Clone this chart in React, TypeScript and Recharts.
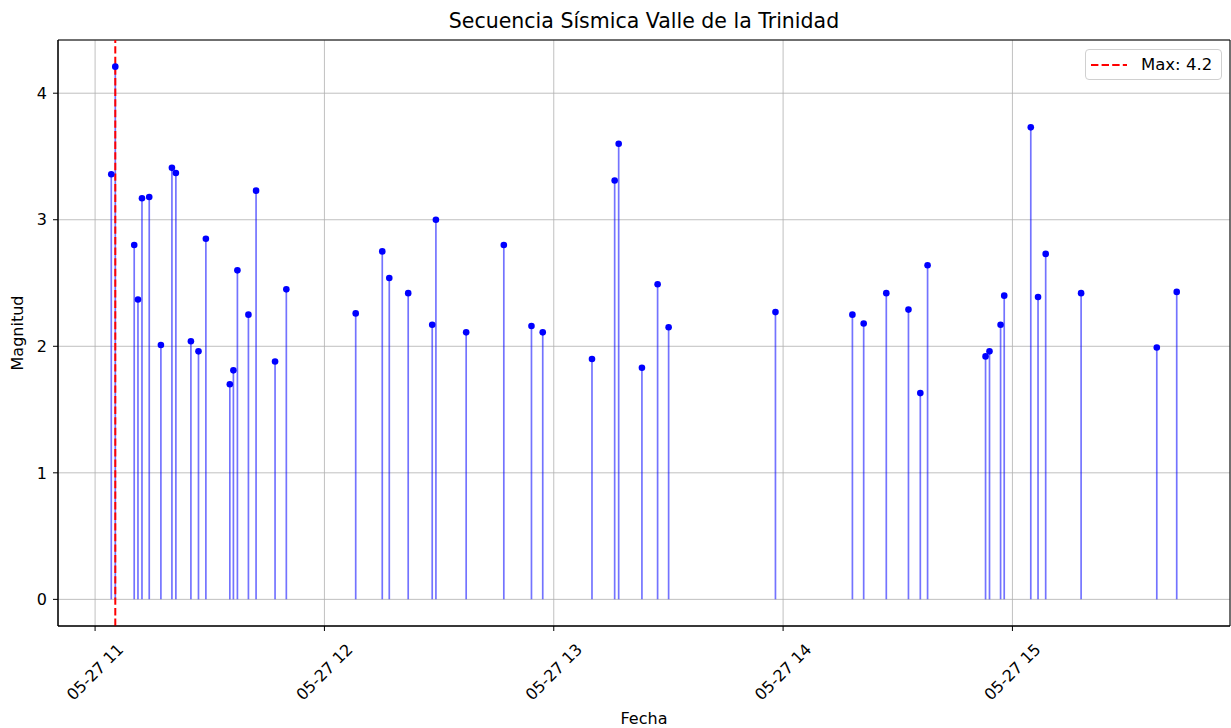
import React from 'react';
import {
  ComposedChart,
  Scatter,
  XAxis,
  YAxis,
  CartesianGrid,
  ReferenceLine,
  ReferenceArea,
  Legend,
} from 'recharts';

// event times (05-27, local) and magnitudes
const EVENT_TIMES = [
  '11:04:14', '11:05:17', '11:10:14', '11:11:13', '11:12:16', '11:14:10', '11:17:13', '11:20:06',
  '11:21:08', '11:25:04', '11:27:03', '11:28:59', '11:35:15', '11:36:11', '11:37:14', '11:40:07',
  '11:42:07', '11:47:05', '11:50:02', '12:08:11', '12:15:08', '12:16:58', '12:21:55', '12:28:12',
  '12:29:10', '12:37:05', '12:46:56', '12:54:10', '12:57:07', '13:10:00', '13:15:56', '13:16:59',
  '13:23:04', '13:27:10', '13:30:03', '13:58:00', '14:18:08', '14:21:05', '14:27:00', '14:32:48',
  '14:35:54', '14:37:48', '14:52:58', '14:54:00', '14:56:54', '14:57:51', '15:04:48', '15:06:42',
  '15:08:42', '15:17:58', '15:37:46', '15:42:59',
];
const MAGNITUDES = [
  3.36, 4.21, 2.8, 2.37, 3.17, 3.18, 2.01, 3.41,
  3.37, 2.04, 1.96, 2.85, 1.7, 1.81, 2.6, 2.25,
  3.23, 1.88, 2.45, 2.26, 2.75, 2.54, 2.42, 2.17,
  3.0, 2.11, 2.8, 2.16, 2.11, 1.9, 3.31, 3.6,
  1.83, 2.49, 2.15, 2.27, 2.25, 2.18, 2.42, 2.29,
  1.63, 2.64, 1.92, 1.96, 2.17, 2.4, 3.73, 2.39,
  2.73, 2.42, 1.99, 2.43,
];
const DATE_LABEL = '05-27';
const HOUR_TICKS = [11, 12, 13, 14, 15];
const MAG_TICKS = [0, 1, 2, 3, 4];

const FONT = '"DejaVu Sans", sans-serif';
const TEXT_SIZE = 16;

const toMinutes = (t: string) => {
  const [h, m, s] = t.split(':').map(Number);
  return h * 60 + m + s / 60;
};

const data = EVENT_TIMES.map((t, i) => ({ x: toMinutes(t), y: MAGNITUDES[i] }));

const maxIdx = MAGNITUDES.indexOf(Math.max(...MAGNITUDES));
const maxPoint = data[maxIdx];

// matplotlib-style 5% margins
const xs = data.map(d => d.x);
const xMin = Math.min(...xs);
const xMax = Math.max(...xs);
const xPad = (xMax - xMin) * 0.05;
const xDomain: [number, number] = [xMin - xPad, xMax + xPad];
const yTop = Math.max(...MAGNITUDES);
const yDomain: [number, number] = [-yTop * 0.05, yTop * 1.05];

const DateTick = (props: any) => {
  const { x, y, payload } = props;
  const cy = y + 39;
  return (
    <text
      x={x}
      y={cy}
      textAnchor="middle"
      dominantBaseline="central"
      transform={`rotate(-45 ${x} ${cy})`}
      fontSize={TEXT_SIZE}
      fontFamily={FONT}
      fill="#000"
    >
      {`${DATE_LABEL} ${Math.round(payload.value / 60)}`}
    </text>
  );
};

const MaxLegend = () => (
  <div
    style={{
      width: 135,
      height: 29,
      border: '1px solid #d0d0d0',
      borderRadius: 4,
      background: 'rgba(255,255,255,0.8)',
      display: 'flex',
      alignItems: 'center',
      fontFamily: FONT,
      fontSize: 16.5,
      color: '#000',
      boxSizing: 'content-box',
    }}
  >
    <svg width={42} height={10} style={{ marginLeft: 5 }}>
      <line x1={0} y1={5} x2={36} y2={5} stroke="#ff0000" strokeWidth={2} strokeDasharray="7.4 3.2" />
    </svg>
    <span style={{ marginLeft: 8 }}>{`Max: ${maxPoint.y.toFixed(1)}`}</span>
  </div>
);

export default function App() {
  return (
    <div style={{ position: 'absolute', left: 0, top: 0, width: 1231, height: 728, background: '#fff' }}>
      <div
        style={{
          position: 'absolute',
          left: 58,
          width: 1172,
          top: 11,
          textAlign: 'center',
          fontFamily: FONT,
          fontSize: 20.5,
          lineHeight: 1,
          color: '#000',
        }}
      >
        Secuencia Sísmica Valle de la Trinidad
      </div>
      <ComposedChart width={1231} height={728} margin={{ top: 40, right: 1, bottom: 0, left: 0 }}>
        <CartesianGrid stroke="#b0b0b0" strokeWidth={0.8} />
        <XAxis
          type="number"
          dataKey="x"
          domain={xDomain}
          allowDataOverflow
          ticks={HOUR_TICKS.map(h => h * 60)}
          height={102}
          tickSize={5}
          tickLine={{ stroke: '#000' }}
          axisLine={{ stroke: '#000' }}
          tick={<DateTick />}
          label={{ value: 'Fecha', position: 'insideBottom', offset: 4, fontSize: TEXT_SIZE, fontFamily: FONT, fill: '#000' }}
        />
        <YAxis
          type="number"
          dataKey="y"
          domain={yDomain}
          allowDataOverflow
          ticks={MAG_TICKS}
          width={58}
          tickSize={5}
          tickMargin={6}
          tickLine={{ stroke: '#000' }}
          axisLine={{ stroke: '#000' }}
          tick={{ fontSize: TEXT_SIZE, fontFamily: FONT, fill: '#000' }}
          label={{
            value: 'Magnitud',
            content: (p: any) => {
              const vb = p.viewBox;
              const cx = vb.x + 17;
              const cy = vb.y + vb.height / 2;
              return (
                <text
                  x={cx}
                  y={cy}
                  textAnchor="middle"
                  dominantBaseline="central"
                  transform={`rotate(-90 ${cx} ${cy})`}
                  fontSize={TEXT_SIZE}
                  fontFamily={FONT}
                  fill="#000"
                >
                  Magnitud
                </text>
              );
            },
          }}
        />
        {data.map((d, i) => (
          <ReferenceLine
            key={i}
            segment={[{ x: d.x, y: 0 }, { x: d.x, y: d.y }]}
            stroke="#0000ff"
            strokeOpacity={0.55}
            strokeWidth={1.7}
          />
        ))}
        <Scatter
          data={data}
          isAnimationActive={false}
          shape={(p: any) => <circle cx={p.cx} cy={p.cy} r={3.3} fill="#0000ff" />}
        />
        <ReferenceLine x={maxPoint.x} stroke="#ff0000" strokeWidth={2} strokeDasharray="7.4 3.2" />
        <ReferenceArea
          x1={xDomain[0]}
          x2={xDomain[1]}
          y1={yDomain[0]}
          y2={yDomain[1]}
          fill="none"
          stroke="#000"
          strokeWidth={1}
          ifOverflow="visible"
        />
        <Legend
          align="center"
          verticalAlign="middle"
          wrapperStyle={{ position: 'absolute', top: 49, left: 1085, width: 'auto' }}
          content={() => <MaxLegend />}
        />
      </ComposedChart>
    </div>
  );
}
